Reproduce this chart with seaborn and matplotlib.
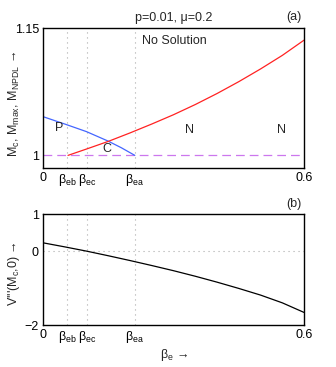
import matplotlib
matplotlib.use('Agg')
import matplotlib.pyplot as plt
import seaborn as sns
import pandas as pd

sns.set_style('white')
plt.rcParams['font.family'] = ['Liberation Sans', 'DejaVu Sans']
plt.rcParams['mathtext.fontset'] = 'custom'
plt.rcParams['mathtext.rm'] = 'Liberation Sans'
plt.rcParams['mathtext.it'] = 'Liberation Sans'
plt.rcParams['font.size'] = 9

# special beta_e positions
beta_eb, beta_ec, beta_ea = 0.055, 0.101, 0.211

# M_c (blue), from 0 to beta_ea
mc_beta = [0.0, 0.05, 0.10, 0.149, 0.18, 0.211]
mc_val = [1.0457, 1.037, 1.028, 1.017, 1.009, 1.0]

# M_max (red), from beta_eb to 0.6
mmax_beta = [0.0575, 0.10, 0.15, 0.2, 0.25, 0.3, 0.35, 0.4, 0.45, 0.5, 0.55, 0.6]
mmax_val = [1.0, 1.0075, 1.0165, 1.0265, 1.037, 1.048, 1.060, 1.073, 1.087,
            1.102, 1.118, 1.136]

# V'''(M_c, 0)
v_beta = [0.0, 0.05, 0.1, 0.15, 0.2, 0.25, 0.3, 0.35, 0.4, 0.45, 0.5, 0.55, 0.6]
v_val = [0.225, 0.115, 0.0, -0.125, -0.255, -0.39, -0.53, -0.68, -0.84,
         -1.01, -1.19, -1.40, -1.66]

df_mc = pd.DataFrame({'beta': mc_beta, 'M': mc_val})
df_mx = pd.DataFrame({'beta': mmax_beta, 'M': mmax_val})
df_v = pd.DataFrame({'beta': v_beta, 'V': v_val})

fig = plt.figure(figsize=(3.36, 3.67), dpi=100)
ax1 = fig.add_axes([0.128, 0.542, 0.777, 0.381])
ax2 = fig.add_axes([0.128, 0.1144, 0.777, 0.302])

xticks = [0, beta_eb, beta_ec, beta_ea, 0.6]
xlabels = ['0', r'β$_{eb}$', r'β$_{ec}$', r'β$_{ea}$', '0.6']
dot = dict(color='#aaaaaa', ls=(0, (1, 3.5)), lw=0.8)

# panel (a)
ax1.axhline(1.0, color='#cc77ee', ls=(0, (7, 4)), lw=0.9)
for b in [beta_eb, beta_ec, beta_ea]:
    ax1.axvline(b, **dot)
sns.lineplot(data=df_mc, x='beta', y='M', ax=ax1, color='#4466ff', lw=0.9)
sns.lineplot(data=df_mx, x='beta', y='M', ax=ax1, color='#ff2222', lw=0.9)
ax1.set_xlim(0, 0.6)
ax1.set_ylim(0.985, 1.15)
ax1.set_xticks(xticks)
ax1.set_xticklabels(xlabels)
ax1.set_yticks([1, 1.15])
ax1.set_yticklabels(['1', '1.15'])
ax1.set_xlabel('')
ax1.set_ylabel(r'M$_c$, M$_{max}$, M$_{NPDL}$ →')
ax1.yaxis.set_label_coords(-0.08, 0.46)
ax1.text(0.303, 1.135, 'No Solution', ha='center', va='center')
ax1.text(0.037, 1.032, 'P', ha='center', va='center')
ax1.text(0.147, 1.007, 'C', ha='center', va='center')
ax1.text(0.336, 1.0295, 'N', ha='center', va='center')
ax1.text(0.547, 1.0295, 'N', ha='center', va='center')
ax1.set_title('p=0.01, μ=0.2', fontsize=9, pad=5)
ax1.text(0.99, 1.04, '(a)', transform=ax1.transAxes, ha='right', va='bottom')

# panel (b)
ax2.axhline(0, **dot)
for b in [beta_eb, beta_ec, beta_ea]:
    ax2.axvline(b, **dot)
sns.lineplot(data=df_v, x='beta', y='V', ax=ax2, color='black', lw=0.9)
ax2.set_xlim(0, 0.6)
ax2.set_ylim(-2, 1)
ax2.set_xticks(xticks)
ax2.set_xticklabels(xlabels)
ax2.set_yticks([-2, 0, 1])
ax2.set_yticklabels(['−2', '0', '1'])
ax2.set_xlabel('β$_e$ →', labelpad=1)
ax2.set_ylabel("V'''(M$_c$,0) →")
ax2.yaxis.set_label_coords(-0.08, 0.46)
ax2.text(0.99, 1.04, '(b)', transform=ax2.transAxes, ha='right', va='bottom')

for ax in (ax1, ax2):
    for s in ax.spines.values():
        s.set_visible(True)
        s.set_color('black')
        s.set_linewidth(1.0)
    ax.tick_params(direction='in', length=3, width=0.7, pad=3, labelsize=9,
                   colors='black')

fig.savefig('out.png', dpi=100)
